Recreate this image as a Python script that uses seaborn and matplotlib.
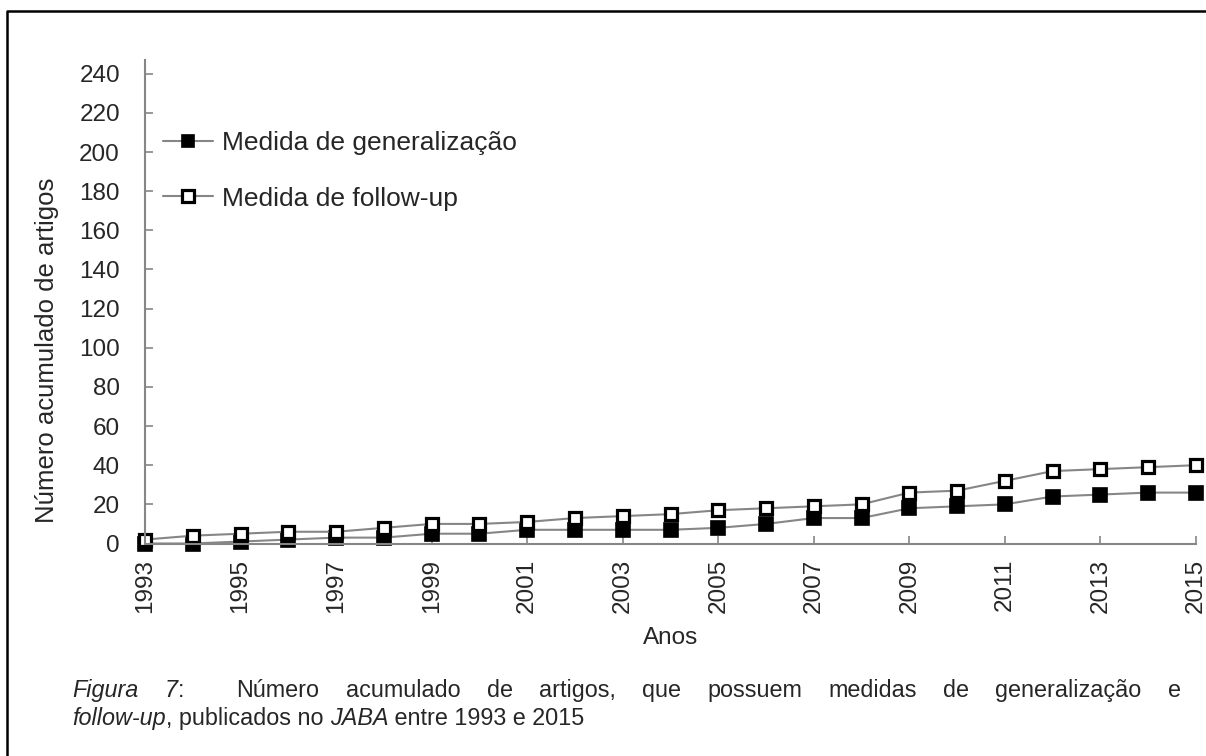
# Figura 7 - numero acumulado de artigos (JABA, 1993-2015)
# Recreates the Excel-style line chart with a boxed caption.

import numpy as np
import pandas as pd
import matplotlib
matplotlib.use("Agg")
import matplotlib.pyplot as plt
from matplotlib.lines import Line2D
import seaborn as sns

# -----------------------------
# Data
# -----------------------------
anos = list(range(1993, 2016))
generalizacao = [0, 0, 1, 2, 3, 3, 5, 5, 7, 7, 7, 7, 8, 10, 13, 13, 18, 19, 20, 24, 25, 26, 26]
follow_up = [2, 4, 5, 6, 6, 8, 10, 10, 11, 13, 14, 15, 17, 18, 19, 20, 26, 27, 32, 37, 38, 39, 40]
y_ticks = list(range(0, 241, 20))
x_ticks = list(range(1993, 2016, 2))

df = pd.DataFrame({"Ano": anos, "Generalizacao": generalizacao, "FollowUp": follow_up})

# -----------------------------
# Style
# -----------------------------
sns.set_theme(style="white")
plt.rcParams["font.family"] = ["Liberation Sans", "DejaVu Sans"]

W, H = 1206, 756
fig = plt.figure(figsize=(W / 100, H / 100), dpi=100)
ax = fig.add_axes([145 / W, 1 - 543.5 / H, (1196 - 145) / W, (543.5 - 60) / H])

LINE = "#868686"

sns.lineplot(data=df, x="Ano", y="Generalizacao", ax=ax, color=LINE, linewidth=1.5,
             marker="s", markersize=9.5, markerfacecolor="black", markeredgecolor="black",
             markeredgewidth=1.2, label="Medida de generalização", clip_on=False)
sns.lineplot(data=df, x="Ano", y="FollowUp", ax=ax, color=LINE, linewidth=1.5,
             marker="s", markersize=9, markerfacecolor="white", markeredgecolor="black",
             markeredgewidth=2.3, label="Medida de follow-up", clip_on=False)

ax.set_xlim(1993, 2015)
ax.set_ylim(0, 247)
ax.set_xticks(x_ticks)
ax.set_xticklabels([str(a) for a in x_ticks], rotation=90)
ax.set_yticks(y_ticks)

for side in ["top", "right"]:
    ax.spines[side].set_visible(False)
for side in ["left", "bottom"]:
    ax.spines[side].set_color(LINE)
    ax.spines[side].set_linewidth(1.5)

ax.tick_params(axis="x", direction="in", length=6, width=1.2, color=LINE,
               labelsize=17.5, pad=11, bottom=True)
ax.tick_params(axis="y", direction="in", length=6, width=1.2, color=LINE,
               labelsize=17.5, pad=18, left=True)

ax.set_xlabel("Anos", fontsize=17.5, labelpad=10)
ax.set_ylabel("Número acumulado de artigos", fontsize=18.5)
ax.yaxis.set_label_coords(-0.082, 0.40)

leg = ax.legend(loc="upper left", bbox_to_anchor=(163 / W, 1 - 131 / H),
                bbox_transform=fig.transFigure, frameon=False, fontsize=19,
                handlelength=1.9, handletextpad=0.35, labelspacing=1.2,
                borderpad=0, borderaxespad=0, markerscale=0.95)
for h in leg.get_lines():
    h.set_linewidth(1.5)

# -----------------------------
# Border (top and left edges of the figure box)
# -----------------------------
fig.add_artist(Line2D([7 / W, 7 / W, 1.0], [0.0, 1 - 11 / H, 1 - 11 / H],
                      transform=fig.transFigure, color="black", linewidth=1.8))

# -----------------------------
# Caption (line 1 justified, italic runs as separate texts)
# -----------------------------
fig.canvas.draw()
renderer = fig.canvas.get_renderer()
CAP = 16.8


def text_width(s, style):
    t = fig.text(0, 0, s, fontsize=CAP, style=style)
    w = t.get_window_extent(renderer).width
    t.remove()
    return w


left_px, right_px = 72, 1181
base1, base2 = H - 697, H - 725

# line 1: justified, every space stretched (double space after the colon)
groups = [[("Figura", "italic")], [("7", "italic"), (":", "normal")]]
for w in "Número acumulado de artigos, que possuem medidas de generalização e".split():
    groups.append([(w, "normal")])
widths = [sum(text_width(s, st) for s, st in g) for g in groups]
weights = [1, 2] + [1] * (len(groups) - 3)
gap = (right_px - left_px - sum(widths)) / sum(weights)
x = left_px
for i, g in enumerate(groups):
    for s, st in g:
        fig.text(x / W, base1 / H, s, fontsize=CAP, style=st, va="baseline")
        x += text_width(s, st)
    if i < len(weights):
        x += gap * weights[i]

# line 2
runs = [("follow-up", "italic"), (", publicados no ", "normal"), ("JABA", "italic"),
        (" entre 1993 e 2015", "normal")]
x = left_px
for s, st in runs:
    fig.text(x / W, base2 / H, s, fontsize=CAP, style=st, va="baseline")
    x += text_width(s, st)

fig.savefig("out.png", dpi=100)
